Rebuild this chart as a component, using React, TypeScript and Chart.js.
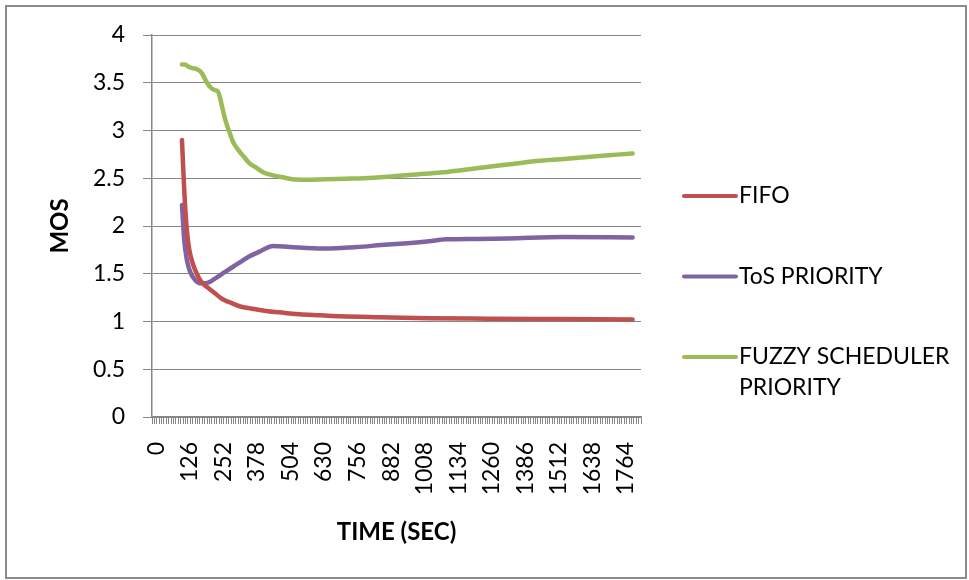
import { useEffect, useRef } from 'react';
import { Chart, registerables } from 'chart.js';

Chart.register(...registerables);

// Time axis: one category per 9 s sample, labelled every 126 s
const TIME_STEP = 9;
const TIME_SLOTS = 204;
const LABEL_EVERY = 14;
const TIME_LABELS = Array.from({ length: TIME_SLOTS }, (_, i) => String(i * TIME_STEP));

// MOS tick range
const MOS_MIN = 0;
const MOS_MAX = 4;
const MOS_STEP = 0.5;

// FIFO
const FIFO_TIME = [108, 117, 126, 135, 144, 153, 162, 171, 180, 189, 198, 216, 234, 252, 270, 297, 324, 360, 423, 495, 549, 630, 702, 855, 1035, 1260, 1530, 1800];
const FIFO_MOS = [2.9, 2.35, 1.97, 1.76, 1.65, 1.57, 1.51, 1.46, 1.42, 1.39, 1.37, 1.33, 1.29, 1.25, 1.22, 1.19, 1.16, 1.14, 1.11, 1.09, 1.075, 1.065, 1.055, 1.045, 1.035, 1.03, 1.025, 1.02];

// ToS PRIORITY
const TOS_TIME = [108, 117, 126, 135, 144, 153, 162, 171, 180, 198, 216, 243, 270, 315, 360, 405, 450, 513, 639, 765, 855, 954, 1035, 1098, 1215, 1332, 1539, 1800];
const TOS_MOS = [2.22, 1.84, 1.65, 1.55, 1.49, 1.45, 1.42, 1.405, 1.4, 1.4, 1.42, 1.47, 1.52, 1.6, 1.68, 1.74, 1.79, 1.78, 1.765, 1.78, 1.8, 1.82, 1.84, 1.86, 1.865, 1.87, 1.885, 1.88];

// FUZZY SCHEDULER PRIORITY
const FUZZY_TIME = [108, 117, 126, 135, 144, 153, 162, 171, 180, 189, 198, 207, 216, 225, 234, 243, 252, 261, 270, 279, 288, 297, 306, 324, 342, 360, 387, 414, 450, 486, 522, 576, 648, 720, 792, 900, 990, 1080, 1170, 1260, 1350, 1440, 1530, 1620, 1710, 1800];
const FUZZY_MOS = [3.69, 3.69, 3.68, 3.665, 3.655, 3.65, 3.645, 3.63, 3.61, 3.57, 3.52, 3.48, 3.45, 3.43, 3.42, 3.41, 3.33, 3.22, 3.12, 3.04, 2.97, 2.9, 2.85, 2.78, 2.72, 2.66, 2.61, 2.56, 2.53, 2.51, 2.49, 2.485, 2.49, 2.495, 2.5, 2.52, 2.54, 2.56, 2.59, 2.62, 2.65, 2.68, 2.7, 2.72, 2.74, 2.76];

const SERIES_NAMES = ['FIFO', 'ToS PRIORITY', 'FUZZY SCHEDULER\nPRIORITY'];
const SERIES_COLORS = ['#C0504D', '#8064A2', '#9BBB59'];

const FONT = 'Lato, "Noto Sans", sans-serif';
const AXIS_GREY = '#868686';

const toPoints = (times: number[], values: number[]) =>
  times.map((t, i) => ({ x: String(t), y: values[i] }));

// Outer frame and the right-hand legend
const framePlugin = {
  id: 'frameAndLegend',
  beforeDraw(chart: any) {
    const { ctx, width, height } = chart;
    ctx.save();
    ctx.fillStyle = '#ffffff';
    ctx.fillRect(0, 0, width, height);
    ctx.restore();
  },
  afterDraw(chart: any) {
    const { ctx, chartArea } = chart;
    ctx.save();
    ctx.strokeStyle = '#8c8c8c';
    ctx.lineWidth = 2;
    ctx.strokeRect(6, 6, 960, 572);

    const lineStart = chartArea.right + 43;
    const lineEnd = chartArea.right + 95;
    const textX = chartArea.right + 98;
    const firstY = 196;
    const gap = 80.5;
    ctx.font = `23px ${FONT}`;
    ctx.textBaseline = 'middle';
    ctx.textAlign = 'left';
    chart.data.datasets.forEach((ds: any, i: number) => {
      const y = firstY + i * gap;
      ctx.strokeStyle = ds.borderColor;
      ctx.lineWidth = 4;
      ctx.lineCap = 'round';
      ctx.beginPath();
      ctx.moveTo(lineStart, y);
      ctx.lineTo(lineEnd, y);
      ctx.stroke();
      ctx.fillStyle = '#000000';
      String(ds.label)
        .split('\n')
        .forEach((line: string, j: number) => ctx.fillText(line, textX, y + j * 31));
    });
    ctx.restore();
  },
};

export default function App() {
  const canvasRef = useRef<HTMLCanvasElement | null>(null);

  useEffect(() => {
    const canvas = canvasRef.current;
    if (!canvas) return;
    const series = [
      toPoints(FIFO_TIME, FIFO_MOS),
      toPoints(TOS_TIME, TOS_MOS),
      toPoints(FUZZY_TIME, FUZZY_MOS),
    ];
    const chart = new Chart(canvas, {
      type: 'line',
      data: {
        labels: TIME_LABELS,
        datasets: series.map((data, i) => ({
          label: SERIES_NAMES[i],
          data,
          borderColor: SERIES_COLORS[i],
          backgroundColor: SERIES_COLORS[i],
          borderWidth: 4.5,
          borderCapStyle: 'round',
          borderJoinStyle: 'round',
          pointRadius: 0,
          cubicInterpolationMode: 'monotone',
          fill: false,
        })),
      },
      options: {
        responsive: false,
        animation: false,
        devicePixelRatio: 1,
        layout: { padding: { left: 46, top: 35, right: 328, bottom: 33 } },
        plugins: {
          legend: { display: false },
          tooltip: { enabled: false },
        },
        scales: {
          x: {
            type: 'category',
            offset: true,
            afterFit: (scale: any) => {
              scale.height = 130;
            },
            grid: {
              display: true,
              drawOnChartArea: false,
              drawTicks: true,
              tickLength: 7,
              color: AXIS_GREY,
              lineWidth: 1,
              offset: true,
            },
            border: { display: true, color: AXIS_GREY, width: 1.5 },
            ticks: {
              autoSkip: false,
              minRotation: 90,
              maxRotation: 90,
              padding: 18,
              labelOffset: 3,
              color: '#000000',
              font: { family: FONT, size: 23 },
              callback: (_v: any, idx: number) => (idx % LABEL_EVERY === 0 ? TIME_LABELS[idx] : ''),
            },
            title: {
              display: true,
              text: 'TIME (SEC)',
              color: '#000000',
              font: { family: FONT, size: 24, weight: 'bold' },
              padding: { top: 0, bottom: 0 },
            },
          },
          y: {
            min: MOS_MIN,
            max: MOS_MAX,
            afterFit: (scale: any) => {
              scale.width = 106;
            },
            grid: {
              color: AXIS_GREY,
              lineWidth: 1,
              drawTicks: true,
              tickLength: 9,
            },
            border: { display: true, color: AXIS_GREY, width: 1.5 },
            ticks: {
              stepSize: MOS_STEP,
              padding: 18,
              color: '#000000',
              font: { family: FONT, size: 23 },
              callback: (v: any) => String(Number(v)),
            },
            title: {
              display: true,
              text: 'MOS',
              color: '#000000',
              font: { family: FONT, size: 24, weight: 'bold' },
              padding: { top: 0, bottom: 0 },
            },
          },
        },
      },
      plugins: [framePlugin],
    } as any);
    return () => chart.destroy();
  }, []);

  return (
    <div style={{ position: 'absolute', left: 0, top: 0, width: 969, height: 580, background: '#ffffff' }}>
      <canvas ref={canvasRef} width={969} height={580} style={{ display: 'block' }} />
    </div>
  );
}
